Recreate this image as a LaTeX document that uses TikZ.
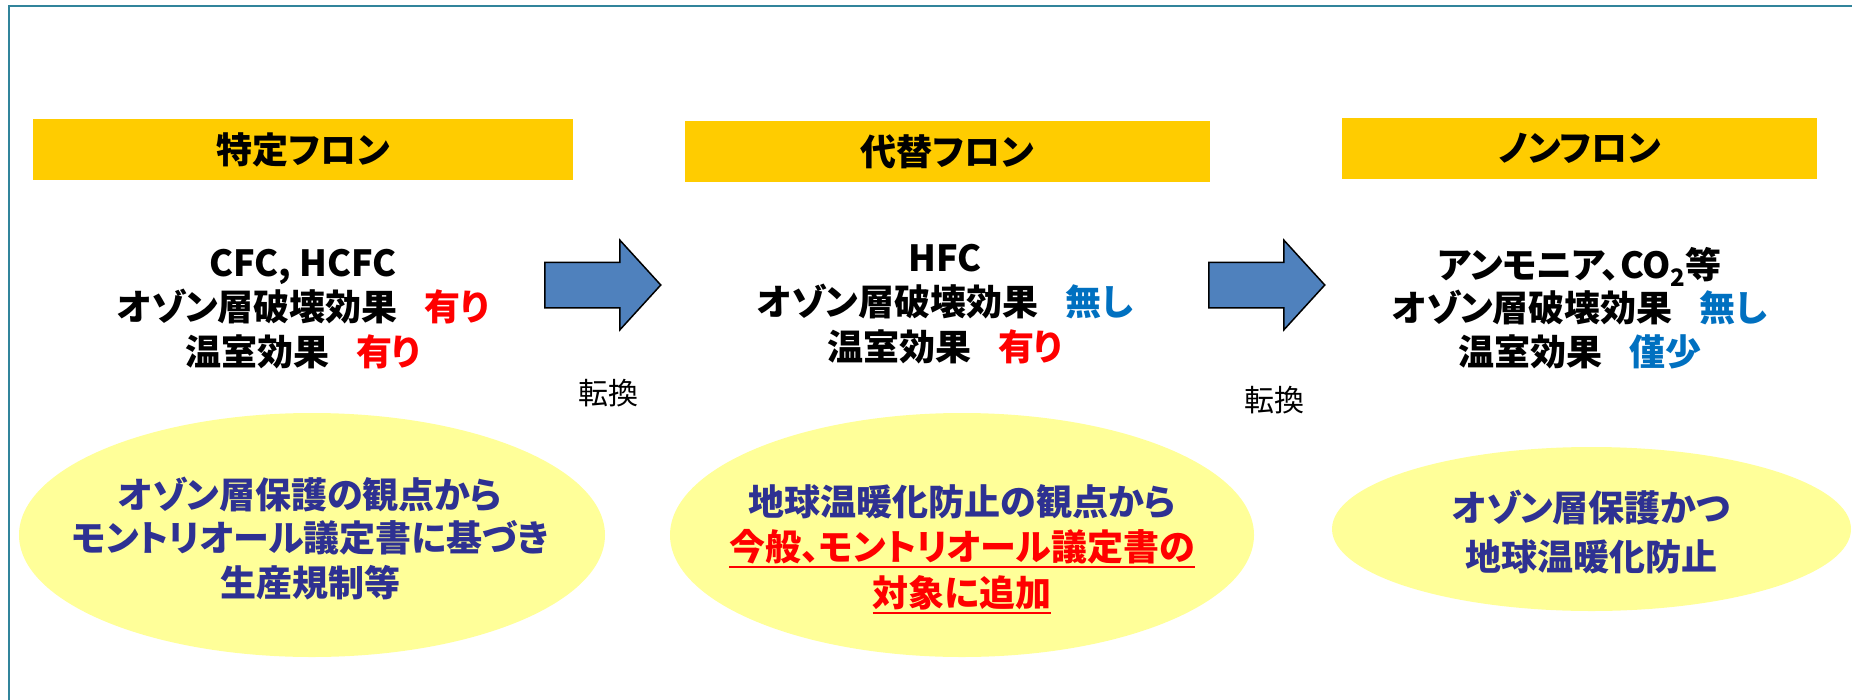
\documentclass[tikz,border=0pt]{standalone}
\usepackage{fontspec}
\setmainfont{Noto Sans CJK JP}[RawFeature={+palt}]
\usetikzlibrary{shapes.geometric,shapes.arrows}
\definecolor{framec}{RGB}{49,132,155}
\definecolor{hdr}{RGB}{255,204,0}
\definecolor{ellc}{RGB}{255,255,153}
\definecolor{navy}{RGB}{46,49,146}
\definecolor{ablue}{RGB}{79,129,189}
\definecolor{jblue}{RGB}{0,112,192}
\newcommand\redul[1]{\setbox0\hbox{#1}\rlap{\raisebox{-7pt}{\color{red}\rule{\wd0}{2pt}}}\box0}
\newcommand\gap{\hspace{0.75em}}
\begin{document}
\begin{tikzpicture}[x=1pt,y=-1pt,
  hdrbox/.style={fill=hdr, inner sep=0, minimum height=61pt, font=\fontsize{36}{40}\selectfont\bfseries},
  txtline/.style={inner sep=0, text height=31pt, text depth=4pt, font=\fontsize{36}{42}\selectfont\bfseries},
  elltxt/.style={inner sep=0, text height=31pt, text depth=4pt, text=navy, font=\fontsize{36}{42}\selectfont\bfseries},
  ellbox/.style={ellipse, fill=ellc, inner sep=0},
  blockarrow/.style={single arrow, draw=black, line width=1.5pt, fill=ablue, minimum height=116pt, text height=44pt, text depth=0pt, text width=0pt, single arrow head extend=22pt, single arrow tip angle=95.3, inner sep=0, anchor=tail},
  tenkan/.style={inner sep=0, font=\fontsize{30}{34}\selectfont}
]
\useasboundingbox (0,0) rectangle (1852,699);
\clip (0,0) rectangle (1852,699);
\draw[framec, line width=2.2pt] (9,6) rectangle (1890,730);

% headers
\node[hdrbox, minimum width=540pt] (h1) at (303,149.5) {特定フロン};
\node[hdrbox, minimum width=525pt] (h2) at (947.5,151.5) {代替フロン};
\node[hdrbox, minimum width=475pt] (h3) at (1579.5,148.5) {ノンフロン};

% block 1
\node[txtline] (b1a) at (303,263) {CFC, HCFC};
\node[txtline] (b1b) at (303,307) {オゾン層破壊効果\gap{\color{red}有り}};
\node[txtline] (b1c) at (303,352) {温室効果\gap{\color{red}有り}};
% block 2
\node[txtline] (b2a) at (945,258) {HFC};
\node[txtline] (b2b) at (945,302) {オゾン層破壊効果\gap{\color{jblue}無し}};
\node[txtline] (b2c) at (945,347) {温室効果\gap{\color{red}有り}};
% block 3
\node[txtline] (b3a) at (1579.5,265) {アンモニア、CO\raisebox{-0.22em}{\fontsize{24}{26}\selectfont 2}等};
\node[txtline] (b3b) at (1579.5,308) {オゾン層破壊効果\gap{\color{jblue}無し}};
\node[txtline] (b3c) at (1579.5,352) {温室効果\gap{\color{jblue}僅少}};

% arrows
\node[blockarrow] (a1) at (544,285) {};
\node[blockarrow] (a2) at (1208,285) {};
\node[tenkan] (t1) at (608,393) {転換};
\node[tenkan] (t2) at (1274,400) {転換};

% ellipses
\node[ellbox, minimum width=586pt, minimum height=244pt] (e1) at (312,535) {};
\node[ellbox, minimum width=584pt, minimum height=244pt] (e2) at (962,535) {};
\node[ellbox, minimum width=519pt, minimum height=164pt] (e3) at (1591.5,529) {};

\node[elltxt] (e1a) at (310,495) {オゾン層保護の観点から};
\node[elltxt] (e1b) at (310,538) {モントリオール議定書に基づき};
\node[elltxt] (e1c) at (310,583) {生産規制等};

\node[elltxt] (e2a) at (962,502) {地球温暖化防止の観点から};
\node[elltxt, text=red] (e2b) at (962,547) {\redul{今般、モントリオール議定書の}};
\node[elltxt, text=red] (e2c) at (962,593) {\redul{対象に追加}};

\node[elltxt] (e3a) at (1591,508) {オゾン層保護かつ};
\node[elltxt] (e3b) at (1591,557) {地球温暖化防止};
\end{tikzpicture}
\end{document}
